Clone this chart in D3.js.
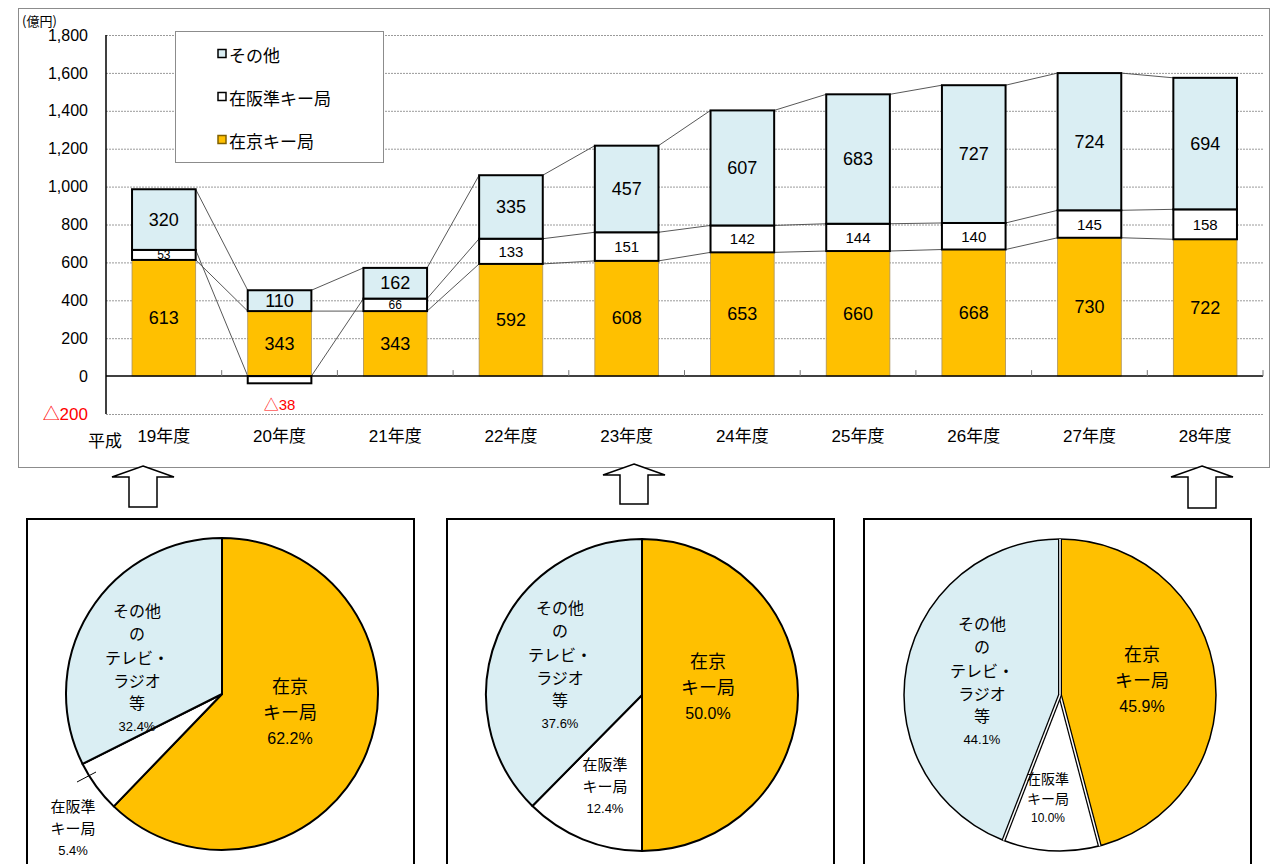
<!DOCTYPE html>
<html>
<head>
<meta charset="utf-8">
<script src="https://cdn.jsdelivr.net/npm/d3@7"></script>
<style>
  body { margin: 0; background: #fff; }
  svg { display: block; font-family: "Liberation Sans", "Noto Sans CJK JP", sans-serif; }
</style>
</head>
<body>
<svg id="chart"></svg>
<script>
// data
const years = ["19年度", "20年度", "21年度", "22年度", "23年度", "24年度", "25年度", "26年度", "27年度", "28年度"];
const zaikyo = [613, 343, 343, 592, 608, 653, 660, 668, 730, 722];
const zaihan = [53, -38, 66, 133, 151, 142, 144, 140, 145, 158];
const sonota = [320, 110, 162, 335, 457, 607, 683, 727, 724, 694];
const yTicks = [-200, 0, 200, 400, 600, 800, 1000, 1200, 1400, 1600, 1800];

const legendNames = ["その他", "在阪準キー局", "在京キー局"];

const pieYears = ["19年度", "23年度", "28年度"];
const pieZaikyo = [62.2, 50.0, 45.9];
const pieZaihan = [5.4, 12.4, 10.0];
const pieSonota = [32.4, 37.6, 44.1];

const COLORS = { zaikyo: "#FFC000", zaihan: "#FFFFFF", sonota: "#DAEEF3" };

const width = 1271, height = 864;
const svg = d3.select("#chart").attr("width", width).attr("height", height);

// ---------- bar chart ----------
const plot = { left: 106, right: 1263, top: 35, bottom: 414 };

svg.append("rect")
    .attr("x", 18.5).attr("y", 8.5)
    .attr("width", 1251).attr("height", 459)
    .attr("fill", "#fff").attr("stroke", "#8c8c8c").attr("stroke-width", 1);

const x = d3.scaleBand()
    .domain(years)
    .range([plot.left, plot.right])
    .paddingInner(0.45)
    .paddingOuter(0.225);

const step = x.step();

const y = d3.scaleLinear()
    .domain([-200, 1800])
    .range([plot.bottom, plot.top]);

// gridlines
svg.append("g")
    .selectAll("line")
    .data(yTicks.filter(d => d !== 0))
    .enter()
    .append("line")
    .attr("x1", plot.left).attr("x2", plot.right)
    .attr("y1", d => y(d) + 0.5).attr("y2", d => y(d) + 0.5)
    .attr("stroke", "#9a9a9a")
    .attr("stroke-width", 1)
    .attr("stroke-dasharray", "2,1");

const rows = years.map((yr, i) => ({ year: yr, zaikyo: zaikyo[i], zaihan: zaihan[i], sonota: sonota[i] }));
const keys = ["zaikyo", "zaihan", "sonota"];
const stacked = d3.stack().keys(keys).offset(d3.stackOffsetDiverging)(rows);

// series lines (Excel style)
const lineG = svg.append("g");
stacked.forEach(s => {
    for (let i = 0; i < s.length - 1; i++) {
        lineG.append("line")
            .attr("x1", x(years[i]) + x.bandwidth())
            .attr("y1", y(s[i][1]))
            .attr("x2", x(years[i + 1]))
            .attr("y2", y(s[i + 1][1]))
            .attr("stroke", "#444")
            .attr("stroke-width", 0.9);
    }
});

// bars
stacked.forEach(s => {
    const key = s.key;
    svg.append("g")
        .selectAll("rect")
        .data(s)
        .enter()
        .append("rect")
        .attr("x", d => x(d.data.year))
        .attr("width", x.bandwidth())
        .attr("y", d => y(Math.max(d[0], d[1])))
        .attr("height", d => Math.abs(y(d[0]) - y(d[1])))
        .attr("fill", COLORS[key])
        .attr("stroke", key === "zaikyo" ? "#a89060" : "#000")
        .attr("stroke-width", key === "zaikyo" ? 0.8 : 2);
});

// zero line + y axis line
svg.append("line")
    .attr("x1", plot.left).attr("x2", plot.right)
    .attr("y1", y(0)).attr("y2", y(0))
    .attr("stroke", "#000").attr("stroke-width", 1.5);

svg.append("line")
    .attr("x1", plot.left).attr("x2", plot.left)
    .attr("y1", plot.top).attr("y2", plot.bottom)
    .attr("stroke", "#000").attr("stroke-width", 1.5);

// category ticks on zero line
svg.append("g")
    .selectAll("line")
    .data(d3.range(1, years.length + 1))
    .enter()
    .append("line")
    .attr("x1", i => plot.left + i * step).attr("x2", i => plot.left + i * step)
    .attr("y1", y(0) - 6).attr("y2", y(0))
    .attr("stroke", "#777").attr("stroke-width", 1);

// segment labels
stacked.forEach(s => {
    svg.append("g")
        .selectAll("text")
        .data(s.filter(d => d.data[s.key] > 0))
        .enter()
        .append("text")
        .attr("x", d => x(d.data.year) + x.bandwidth() / 2)
        .attr("y", d => y((d[0] + d[1]) / 2))
        .attr("text-anchor", "middle")
        .attr("dominant-baseline", "central")
        .attr("font-size", d => {
            const v = d.data[s.key];
            if (v < 100) return "12px";
            if (s.key === "zaihan") return "15px";
            return "18px";
        })
        .attr("fill", "#000")
        .text(d => d.data[s.key]);
});

// negative label
const negIdx = zaihan.findIndex(v => v < 0);
svg.append("text")
    .attr("x", x(years[negIdx]) + x.bandwidth() / 2)
    .attr("y", y(zaihan[negIdx]) + 21)
    .attr("text-anchor", "middle")
    .attr("dominant-baseline", "central")
    .attr("font-size", "15px")
    .attr("fill", "#ff0000")
    .text("△" + Math.abs(zaihan[negIdx]));

// y axis labels
const yAxis = svg.append("g")
    .attr("transform", `translate(${plot.left},0)`)
    .call(d3.axisLeft(y).tickValues(yTicks).tickSize(0).tickPadding(18)
        .tickFormat(d => d < 0 ? "△" + d3.format(",")(-d) : d3.format(",")(d)));
yAxis.select(".domain").remove();
yAxis.selectAll("text")
    .attr("font-size", d => d < 0 ? "17px" : "16px")
    .attr("font-family", "Liberation Sans, Noto Sans CJK JP, sans-serif")
    .attr("fill", d => d < 0 ? "#ff0000" : "#000");

svg.append("text")
    .attr("x", 22).attr("y", 20)
    .attr("font-size", "13px")
    .attr("font-family", "Noto Sans CJK JP, sans-serif")
    .attr("dominant-baseline", "central")
    .text("(億円)");

// x axis labels
const xAxis = svg.append("g")
    .attr("transform", "translate(0,430)")
    .call(d3.axisBottom(x).tickSize(0).tickPadding(0));
xAxis.select(".domain").remove();
xAxis.selectAll("text")
    .attr("font-size", "17px")
    .attr("font-family", "Liberation Sans, Noto Sans CJK JP, sans-serif")
    .attr("fill", "#000");

svg.append("text")
    .attr("x", 105).attr("y", 439)
    .attr("text-anchor", "middle")
    .attr("dominant-baseline", "central")
    .attr("font-size", "17px")
    .attr("font-family", "Noto Sans CJK JP, sans-serif")
    .text("平成");

// legend
const legend = svg.append("g").attr("transform", "translate(175,31)");
legend.append("rect")
    .attr("x", 0.5).attr("y", 0.5)
    .attr("width", 208).attr("height", 131)
    .attr("fill", "#fff").attr("stroke", "#8c8c8c");
const legendColors = [COLORS.sonota, COLORS.zaihan, COLORS.zaikyo];
legendNames.forEach((name, i) => {
    const gy = 23 + i * 43;
    legend.append("rect")
        .attr("x", 43).attr("y", gy - 4.5)
        .attr("width", 8).attr("height", 8)
        .attr("fill", legendColors[i])
        .attr("stroke", i === 2 ? "#806000" : "#000")
        .attr("stroke-width", 1.5);
    legend.append("text")
        .attr("x", 54).attr("y", gy)
        .attr("dominant-baseline", "central")
        .attr("font-size", "17px")
        .attr("font-family", "Noto Sans CJK JP, sans-serif")
        .text(name);
});

// ---------- arrows ----------
const arrows = [
    { cx: 143, top: 466, bottom: 507 },
    { cx: 634, top: 464, bottom: 504 },
    { cx: 1202, top: 466, bottom: 508 }
];
arrows.forEach(a => {
    const hw = 31, sw = 14, hb = a.top + 11;
    const pts = [
        [a.cx, a.top], [a.cx + hw, hb], [a.cx + sw, hb], [a.cx + sw, a.bottom],
        [a.cx - sw, a.bottom], [a.cx - sw, hb], [a.cx - hw, hb]
    ];
    svg.append("path")
        .attr("d", d3.line()(pts) + "Z")
        .attr("fill", "#fff")
        .attr("stroke", "#000")
        .attr("stroke-width", 1.5);
});

// ---------- pies ----------
const pieBoxes = [
    { x: 27, cx: 222, cy: 694 },
    { x: 447, cx: 642, cy: 695 },
    { x: 864, cx: 1060, cy: 695 }
];
// label anchors relative to pie centre (layout only)
const pieLabelPos = [
    { zaikyo: [68, -9], sonota: [-85, -84], zaihan: [-149, 111], zaihanSmall: false },
    { zaikyo: [66, -35], sonota: [-82, -88], zaihan: [-37, 68], zaihanSmall: false },
    { zaikyo: [82, -42], sonota: [-78, -72], zaihan: [-12, 83], zaihanSmall: true }
];
const r = 156;
const pie = d3.pie().sort(null).value(d => d.value);
const arc = d3.arc().innerRadius(0).outerRadius(r);
const fmtPct = v => v.toFixed(1) + "%";

pieYears.forEach((yr, k) => {
    const box = pieBoxes[k];
    svg.append("rect")
        .attr("x", box.x).attr("y", 519)
        .attr("width", 387).attr("height", 360)
        .attr("fill", "#fff").attr("stroke", "#000").attr("stroke-width", 2);

    const slices = [
        { key: "zaikyo", value: pieZaikyo[k] },
        { key: "zaihan", value: pieZaihan[k] },
        { key: "sonota", value: pieSonota[k] }
    ];
    const g = svg.append("g").attr("transform", `translate(${box.cx},${box.cy})`);
    const arcs = pie(slices);
    const doubled = k === 2;

    g.selectAll("path")
        .data(arcs)
        .enter()
        .append("path")
        .attr("d", arc)
        .attr("fill", d => COLORS[d.data.key])
        .attr("stroke", doubled ? "none" : "#000")
        .attr("stroke-width", 2)
        .attr("stroke-linejoin", "round");

    if (doubled) {
        g.append("circle").attr("r", r).attr("fill", "none")
            .attr("stroke", "#000").attr("stroke-width", 1.5);
        arcs.forEach(a => {
            const ang = a.startAngle;
            const ex = Math.sin(ang) * r, ey = -Math.cos(ang) * r;
            g.append("line").attr("x1", 0).attr("y1", 0).attr("x2", ex).attr("y2", ey)
                .attr("stroke", "#000").attr("stroke-width", 4);
            g.append("line").attr("x1", 0).attr("y1", 0).attr("x2", ex).attr("y2", ey)
                .attr("stroke", "#fff").attr("stroke-width", 1.5);
        });
    }

    const pos = pieLabelPos[k];
    const addBlock = (dx, dy, lines, sizes, gap) => {
        lines.forEach((t, i) => {
            g.append("text")
                .attr("x", dx).attr("y", dy + gap[i])
                .attr("text-anchor", "middle")
                .attr("dominant-baseline", "central")
                .attr("font-size", sizes[i])
                .attr("font-family", i === lines.length - 1 ? "Liberation Sans, Noto Sans CJK JP, sans-serif" : "Noto Sans CJK JP, sans-serif")
                .attr("fill", "#000")
                .text(t);
        });
    };
    addBlock(pos.zaikyo[0], pos.zaikyo[1], ["在京", "キー局", fmtPct(pieZaikyo[k])],
        ["18px", "18px", "16px"], [0, 26, 53]);
    addBlock(pos.sonota[0], pos.sonota[1], ["その他", "の", "テレビ・", "ラジオ", "等", fmtPct(pieSonota[k])],
        ["16px", "16px", "16px", "16px", "16px", "13px"], [0, 23, 47, 70, 92, 116]);
    if (pos.zaihanSmall) {
        addBlock(pos.zaihan[0], pos.zaihan[1], ["在阪準", "キー局", fmtPct(pieZaihan[k])],
            ["14px", "14px", "12px"], [0, 20, 40]);
    } else {
        addBlock(pos.zaihan[0], pos.zaihan[1], ["在阪準", "キー局", fmtPct(pieZaihan[k])],
            ["15px", "15px", "13px"], [0, 22, 45]);
    }

    if (k === 0) {
        g.append("line")
            .attr("x1", -145).attr("y1", 88)
            .attr("x2", -126).attr("y2", 78)
            .attr("stroke", "#000").attr("stroke-width", 1);
    }
});
</script>
</body>
</html>
